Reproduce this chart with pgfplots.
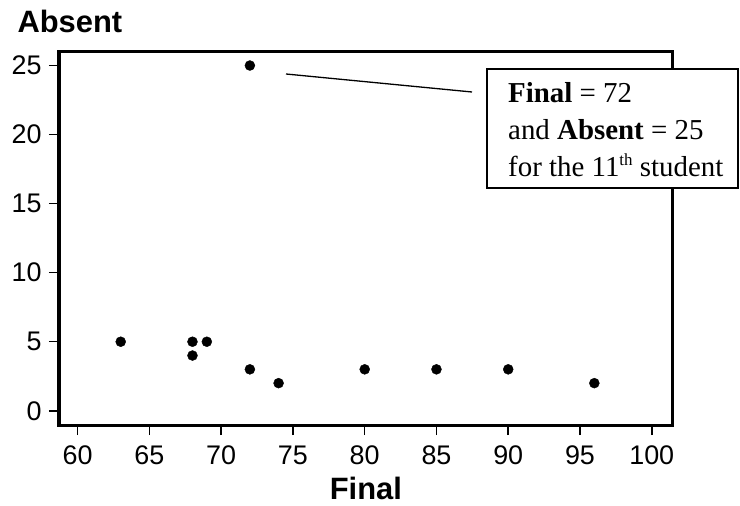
\documentclass[border=0pt]{standalone}
\usepackage{fontspec}
\setmainfont{Liberation Sans}
\newfontfamily\timesfont{Liberation Serif}
\usepackage{pgfplots}
\pgfplotsset{compat=1.18}
\begin{document}
\begin{tikzpicture}
\useasboundingbox (-59bp,-81bp) rectangle (681bp,425bp);
\begin{axis}[
  scale only axis, width=613.7bp, height=373bp,
  at={(0,0)}, anchor=south west,
  xmin=58.7, xmax=101.46, ymin=-1.03, ymax=25.98,
  xtick={60,65,...,100}, ytick={0,5,...,25},
  axis line style={line width=3bp, black},
  tick style={black, line width=1.5bp},
  tick align=outside, tick pos=left,
  major tick length=10bp,
  /pgf/number format/assume math mode=true,
  ticklabel style={font=\fontsize{27}{30}\selectfont, text=black},
  xticklabel style={anchor=base, yshift=-29bp},
  yticklabel style={anchor=east, xshift=-4bp},
  xlabel={\textbf{Final}},
  ylabel={\textbf{Absent}},
  xlabel style={font=\fontsize{31}{34}\selectfont, at={(rel axis cs:0.5,0)}, anchor=base, yshift=-74bp},
  ylabel style={font=\fontsize{31}{34}\selectfont, rotate=-90, at={(rel axis cs:0,1)}, anchor=base west, xshift=-45bp, yshift=19bp},
  clip=false,
]
\addplot[only marks, mark=*, mark size=5bp, black] coordinates {
  (63,5) (68,5) (68,4) (69,5) (72,3) (74,2) (80,3) (85,3) (90,3) (96,2) (72,25)
};
\end{axis}
\draw[line width=1.3bp] (227bp,351bp) -- (413bp,333bp);
\draw[line width=2bp, fill=white] (428bp,237bp) rectangle (679bp,356bp);
\node[anchor=base west, inner sep=0pt, font=\timesfont\fontsize{29}{32}\selectfont] at (449bp,322bp) {\textbf{Final} = 72};
\node[anchor=base west, inner sep=0pt, font=\timesfont\fontsize{29}{32}\selectfont] at (449bp,285bp) {and \textbf{Absent} = 25};
\node[anchor=base west, inner sep=0pt, font=\timesfont\fontsize{29}{32}\selectfont] at (449bp,248bp) {for the 11\raisebox{11bp}{\fontsize{17}{17}\selectfont th} student};
\end{tikzpicture}
\end{document}
